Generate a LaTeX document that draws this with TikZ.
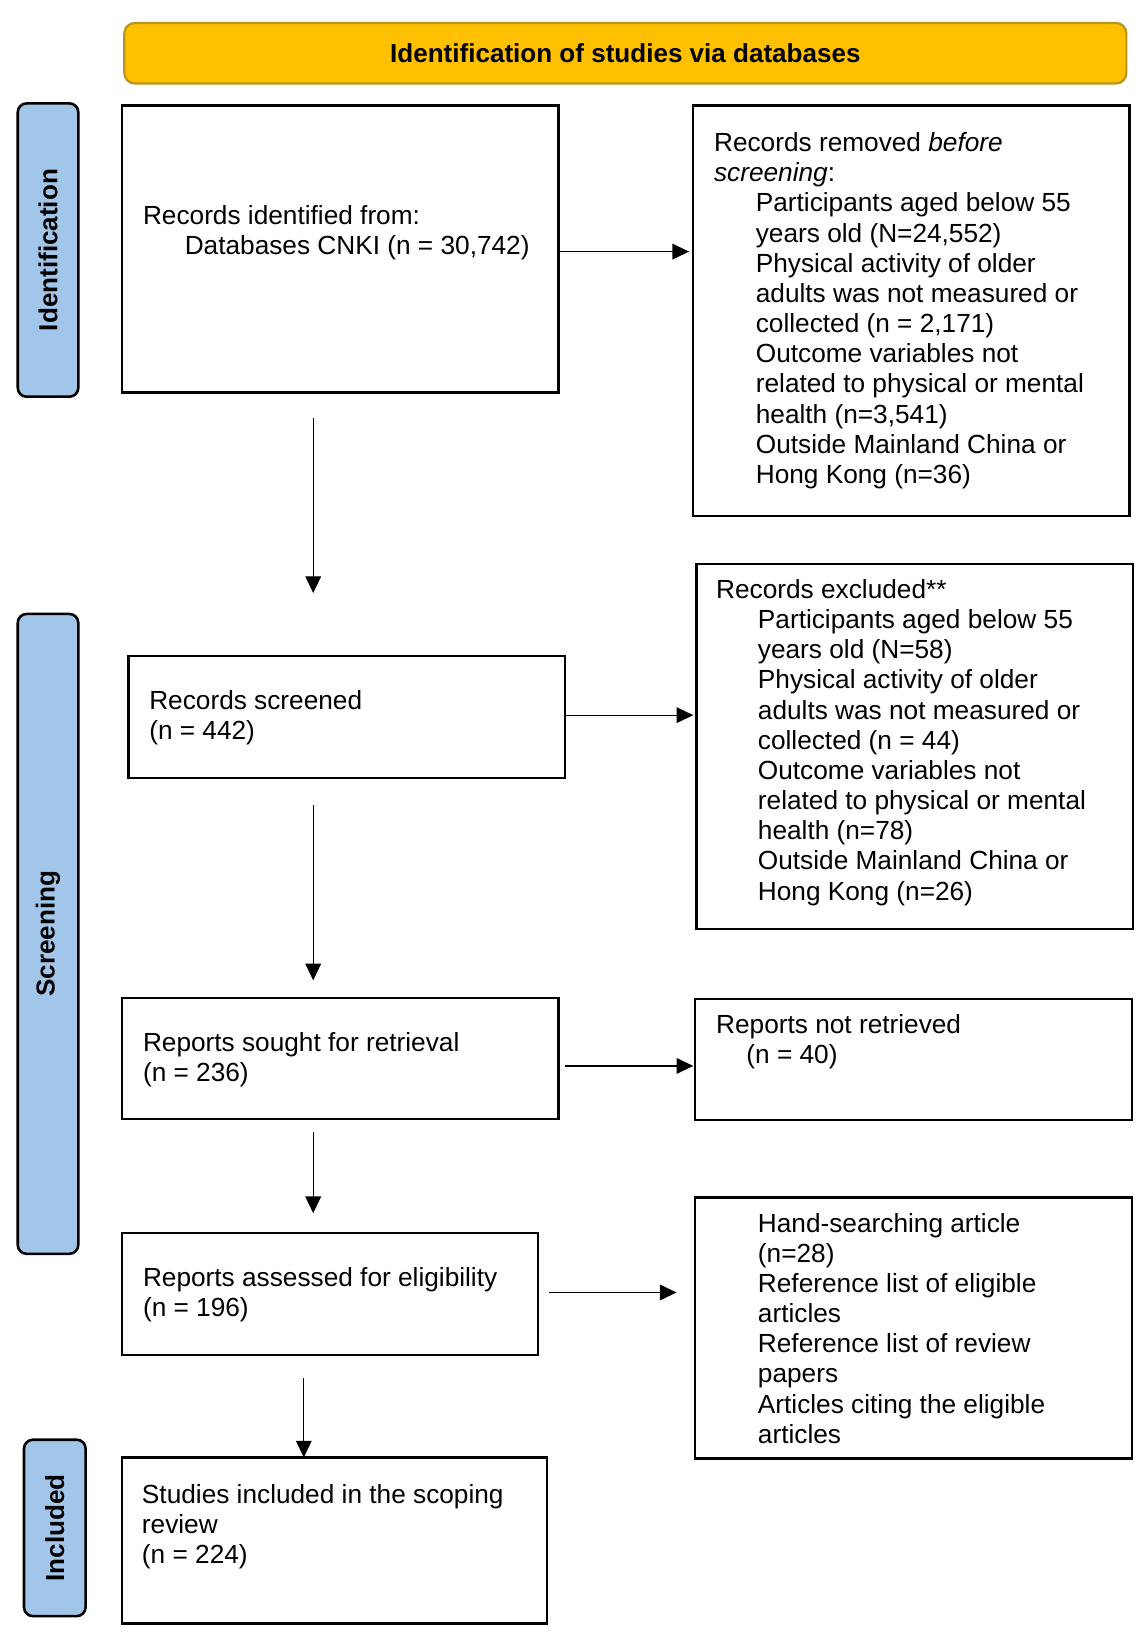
\documentclass[tikz,border=0pt]{standalone}
\usepackage{fontspec}
\setmainfont{Liberation Sans}
\usetikzlibrary{arrows.meta,calc}
\definecolor{bannerfill}{HTML}{FFC000}
\definecolor{bannerdraw}{HTML}{B8961E}
\definecolor{sidefill}{HTML}{A2C6EA}
\newcommand\ind{\hspace*{0.8cm}}
\begin{document}
\begin{tikzpicture}[x=0.02cm,y=-0.02cm,
  every node/.style={font=\fontsize{14.3pt}{16.44pt}\selectfont},
  box/.style={draw=black, line width=1.2pt, inner sep=0pt, outer sep=0pt, rectangle},
  txt/.style={anchor=north west, inner sep=0pt, outer sep=0pt, align=left},
  side/.style={draw=black, line width=1.4pt, fill=sidefill, rounded corners=0.17cm, inner sep=0pt, outer sep=0pt, rotate=90, font=\fontsize{14.2pt}{16.44pt}\selectfont\bfseries},
  arr/.style={-{Triangle[length=0.32cm,width=0.3cm]}, line width=0.7pt, draw=black}]
\useasboundingbox (0,0) rectangle (1095,1568);
\fill[white] (0,0) rectangle (1095,1568);

% banner
\node[draw=bannerdraw, line width=1.2pt, fill=bannerfill, rounded corners=0.2cm, inner sep=0pt,
  minimum width=19.2cm, minimum height=1.16cm, font=\fontsize{14.2pt}{16.44pt}\selectfont\bfseries] (banner) at (599,51) {Identification of studies via databases};

% side labels
\node[side, minimum width=5.62cm, minimum height=1.16cm] (sid) at (46,239.5) {Identification};
\node[side, minimum width=12.26cm, minimum height=1.16cm] (sscr) at (46,894.5) {Screening};
\node[side, minimum width=3.38cm, minimum height=1.18cm] (sinc) at (52.5,1463.5) {Included};

% boxes
\node[box, minimum width=8.36cm, minimum height=5.5cm] (b1) at (326,238.5) {};
\node[box, minimum width=8.36cm, minimum height=7.86cm] (rem) at (873,297.5) {};
\node[box, minimum width=8.36cm, minimum height=2.34cm] (scr) at (332,686.5) {};
\node[box, minimum width=8.36cm, minimum height=7.0cm] (exc) at (876,715) {};
\node[box, minimum width=8.36cm, minimum height=2.32cm] (sou) at (326,1014) {};
\node[box, minimum width=8.36cm, minimum height=2.32cm] (nr) at (875,1015) {};
\node[box, minimum width=7.96cm, minimum height=2.34cm] (ass) at (316,1239.5) {};
\node[box, minimum width=8.36cm, minimum height=5.0cm] (hand) at (875,1272) {};
\node[box, minimum width=8.14cm, minimum height=3.18cm] (inc) at (320.5,1475.5) {};

% texts
\node[txt] (t1) at (137,195) {\strut Records identified from:\\ \ind Databases CNKI (n = 30,742)};
\node[txt] (trem) at (684,125) {\strut Records removed \textit{before}\\
\textit{screening}:\\
\ind Participants aged below 55\\
\ind years old (N=24,552)\\
\ind Physical activity of older\\
\ind adults was not measured or\\
\ind collected (n = 2,171)\\
\ind Outcome variables not\\
\ind related to physical or mental\\
\ind health (n=3,541)\\
\ind Outside Mainland China or\\
\ind Hong Kong (n=36)};
\node[txt] (tscr) at (143,659) {\strut Records screened\\ (n = 442)};
\node[txt] (texc) at (686,553) {\strut Records excluded**\\
\ind Participants aged below 55\\
\ind years old (N=58)\\
\ind Physical activity of older\\
\ind adults was not measured or\\
\ind collected (n = 44)\\
\ind Outcome variables not\\
\ind related to physical or mental\\
\ind health (n=78)\\
\ind Outside Mainland China or\\
\ind Hong Kong (n=26)};
\node[txt] (tsou) at (137,987) {\strut Reports sought for retrieval\\ (n = 236)};
\node[txt] (tnr) at (686,970) {\strut Reports not retrieved\\ \hspace*{0.58cm}(n = 40)};
\node[txt] (tass) at (137,1212) {\strut Reports assessed for eligibility\\ (n = 196)};
\node[txt] (thand) at (726,1160) {\strut Hand-searching article\\
(n=28)\\
Reference list of eligible\\
articles\\
Reference list of review\\
papers\\
Articles citing the eligible\\
articles};
\node[txt] (tinc) at (136,1420) {\strut Studies included in the scoping\\ review\\ (n = 224)};

% vertical arrows
\coordinate (ax) at (300,0);
\coordinate (ax2) at (291,0);
\draw[arr, shorten <=0.48cm, shorten >=1.2cm] (b1.south -| ax) -- (scr.north -| ax);
\draw[arr, shorten <=0.52cm, shorten >=0.34cm] (scr.south -| ax) -- (sou.north -| ax);
\draw[arr, shorten <=0.24cm, shorten >=0.38cm] (sou.south -| ax) -- (ass.north -| ax);
\draw[arr, shorten <=0.44cm] (ass.south -| ax2) -- (inc.north -| ax2);

% horizontal arrows
\draw[arr, shorten >=0.08cm] (b1.east |- 0,241) -- (rem.west |- 0,241);
\draw[arr, shorten >=0.06cm] (scr.east |- 0,685) -- (exc.west |- 0,685);
\draw[arr, shorten <=0.12cm, shorten >=0.04cm] (sou.east |- 0,1021) -- (nr.west |- 0,1021);
\draw[arr, shorten <=0.22cm, shorten >=0.36cm] (ass.east |- 0,1238) -- (hand.west |- 0,1238);
\end{tikzpicture}
\end{document}
